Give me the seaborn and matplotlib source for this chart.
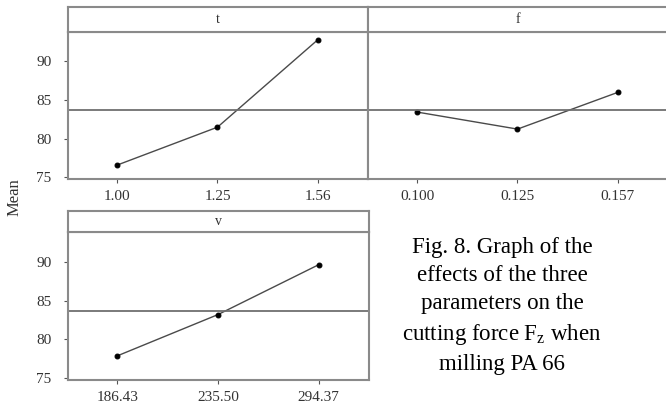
import numpy as np
import pandas as pd
import seaborn as sns
import matplotlib
matplotlib.use('Agg')
import matplotlib.pyplot as plt

sns.set_theme(style='white')
plt.rcParams['font.family'] = ['Liberation Serif', 'DejaVu Serif']

# Main effects data
t_levels = ['1.00', '1.25', '1.56']
t_means = [76.6, 81.5, 92.8]
f_levels = ['0.100', '0.125', '0.157']
f_means = [83.45, 81.25, 86.0]
v_levels = ['186.43', '235.50', '294.37']
v_means = [77.9, 83.2, 89.6]
grand_mean = 83.7
y_ticks = [75, 80, 85, 90]

W, H = 666, 411
fig = plt.figure(figsize=(W / 100, H / 100), dpi=100)
fig.patch.set_facecolor('white')

edge = '#8a8a8a'


def px_axes(x0, y0, x1, y1):
    # axes from pixel box (top-left origin)
    return fig.add_axes([x0 / W, 1 - y1 / H, (x1 - x0) / W, (y1 - y0) / H])


def panel(box, strip_top, name, levels, means, show_y=True):
    x0, y0, x1, y1 = box
    ax = px_axes(x0, y0, x1, y1)
    df = pd.DataFrame({'level': np.arange(len(levels)), 'mean': means})
    sns.lineplot(data=df, x='level', y='mean', ax=ax, color='#4a4a4a', lw=1.0,
                 marker='o', markersize=3.5, markerfacecolor='black',
                 markeredgecolor='black')
    ax.axhline(grand_mean, color='#6f6f6f', lw=1.3)
    ax.set_xlim(-0.49, 2.5)
    ax.set_ylim(74.8, 93.8)
    ax.set_xticks(range(len(levels)))
    ax.set_xticklabels(levels)
    ax.set_yticks(y_ticks)
    if not show_y:
        ax.set_yticklabels([])
        ax.tick_params(axis='y', length=0)
    ax.set_xlabel('')
    ax.set_ylabel('')
    ax.tick_params(axis='both', labelsize=11, colors='#555555',
                   labelcolor='#333333', direction='out', length=3, width=0.8,
                   bottom=True, left=show_y)
    ax.tick_params(axis='x', pad=5)
    ax.tick_params(axis='y', pad=9)
    for s in ax.spines.values():
        s.set_color(edge)
        s.set_linewidth(1.5)
    # strip
    sax = px_axes(x0, strip_top, x1, y0)
    sax.set_xticks([])
    sax.set_yticks([])
    for s in sax.spines.values():
        s.set_color(edge)
        s.set_linewidth(1.5)
    sax.text(0.5, 0.5, name, ha='center', va='center', fontsize=10,
             color='#333333', transform=sax.transAxes)
    return ax


panel((68, 32, 368, 179), 7, 't', t_levels, t_means)
panel((368, 32, 668, 179), 7, 'f', f_levels, f_means, show_y=False)
panel((68, 232, 369, 380), 211, 'v', v_levels, v_means)

fig.text(15 / W, 1 - 197 / H, 'Mean', rotation=90, ha='center', va='center',
         fontsize=12, color='#333333')

caption = ('Fig. 8. Graph of the\neffects of the three\nparameters on the\n'
           'cutting force F$_{\\mathregular{z}}$ when\nmilling PA 66')
fig.text(502 / W, 1 - 306 / H, caption, ha='center', va='center',
         fontsize=16.5, color='black', linespacing=1.45)

fig.savefig('out.png', dpi=100)
